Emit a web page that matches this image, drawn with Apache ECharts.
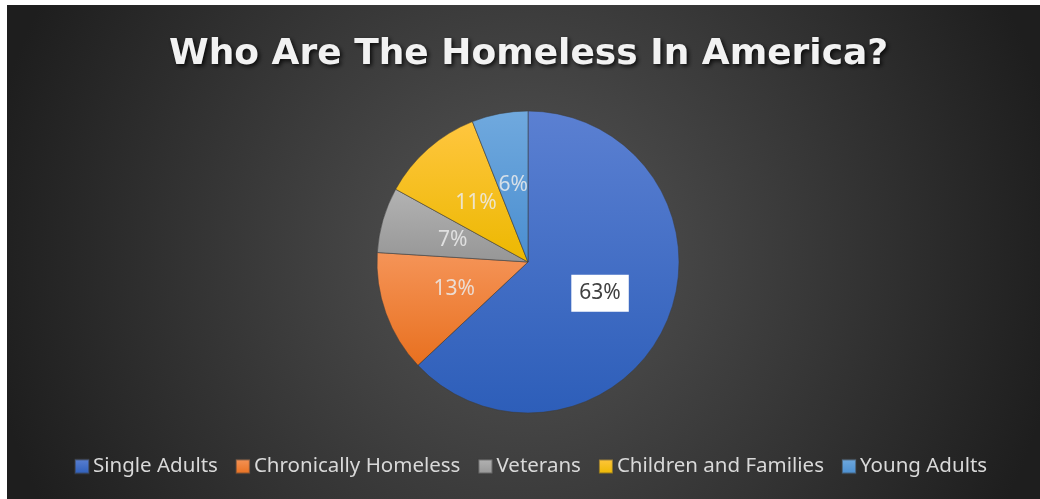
<!DOCTYPE html>
<html>
<head>
<meta charset="utf-8">
<script src="https://cdn.jsdelivr.net/npm/echarts@6/dist/echarts.min.js"></script>
<style>
  html, body { margin: 0; padding: 0; background: #fff; }
  #chart { width: 1040px; height: 499px; }
</style>
</head>
<body>
<div id="chart"></div>
<script>
// data
const categories = ['Single Adults', 'Chronically Homeless', 'Veterans', 'Children and Families', 'Young Adults']
const values = [63, 13, 7, 11, 6]
// top / bottom shades of each slice
const topColors = ['#5b80d2', '#f59458', '#b3b3b3', '#ffc63f', '#70a9de']
const bottomColors = ['#2d5eb9', '#e8701f', '#969696', '#ecb800', '#4a8ed0']

const grad = (i) => new echarts.graphic.LinearGradient(0, 0, 0, 1, [
  { offset: 0, color: topColors[i] },
  { offset: 1, color: bottomColors[i] }
])

const chart = echarts.init(document.getElementById('chart'))

chart.setOption({
  backgroundColor: '#fff',
  graphic: [{
    type: 'rect',
    z: -10,
    silent: true,
    shape: { x: 7, y: 5, width: 1033, height: 494 },
    style: {
      fill: new echarts.graphic.RadialGradient(0.5, 0.5, 1.1, [
        { offset: 0, color: '#555555' },
        { offset: 1, color: '#1e1e1e' }
      ])
    }
  }],
  title: {
    text: 'Who Are The Homeless In America?',
    left: 164,
    top: 32,
    textStyle: {
      color: '#f2f2f2',
      fontSize: 36,
      fontWeight: 'bold',
      fontFamily: 'DejaVu Sans',
      textShadowColor: 'rgba(0,0,0,0.8)',
      textShadowBlur: 4,
      textShadowOffsetX: 2,
      textShadowOffsetY: 2
    }
  },
  legend: {
    bottom: 17,
    left: 69,
    icon: 'rect',
    itemWidth: 14,
    itemHeight: 14,
    itemGap: 17,
    textStyle: {
      color: '#d9d9d9',
      fontSize: 20.5,
      fontFamily: 'Noto Sans',
      padding: [0, 0, 0, -1]
    },
    data: categories
  },
  series: [{
    type: 'pie',
    center: [528, 262],
    radius: [0, 151],
    startAngle: 90,
    clockwise: true,
    silent: true,
    itemStyle: {
      borderColor: 'rgba(60,60,60,0.5)',
      borderWidth: 0.6
    },
    label: {
      show: true,
      position: 'inside',
      formatter: '{d}%',
      fontSize: 21,
      fontFamily: 'Noto Sans',
      color: 'rgba(235,235,235,0.85)'
    },
    labelLine: { show: false },
    data: categories.map((name, i) => ({
      name: name,
      value: values[i],
      itemStyle: { color: grad(i) },
      label: i === 0 ? {
        color: '#404040',
        backgroundColor: '#fff',
        padding: [9, 8, 7, 8]
      } : {}
    }))
  }]
})
</script>
</body>
</html>
